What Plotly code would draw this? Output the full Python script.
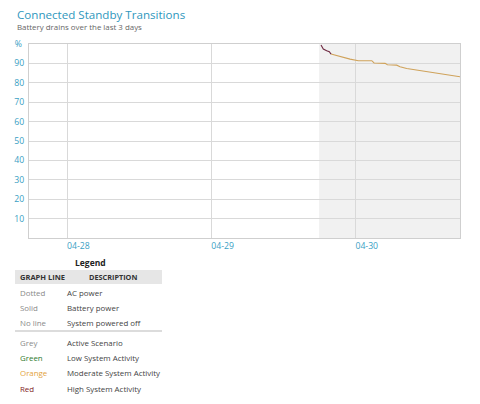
import plotly.graph_objects as go

# ---- data ----
times_high = ["2014-04-29 18:13", "2014-04-29 18:36", "2014-04-29 19:10", "2014-04-29 19:36", "2014-04-29 19:53"]
pct_high = [99.5, 97.4, 96.5, 96.0, 94.8]
times_mod = ["2014-04-29 19:53", "2014-04-29 21:23", "2014-04-29 23:03", "2014-04-30 00:26",
             "2014-04-30 02:40", "2014-04-30 03:03", "2014-04-30 04:53", "2014-04-30 05:16",
             "2014-04-30 06:49", "2014-04-30 07:22", "2014-04-30 08:29", "2014-04-30 17:21"]
pct_mod = [94.8, 93.4, 92.2, 91.4, 91.4, 90.2, 90.0, 89.3, 89.1, 88.3, 87.4, 83.1]
active_start = "2014-04-29 17:54"
x_range = ["2014-04-27 17:37", "2014-04-30 17:21"]
day_ticks = ["2014-04-28", "2014-04-29", "2014-04-30"]
day_labels = ["04-28", "04-29", "04-30"]
y_ticks = [10, 20, 30, 40, 50, 60, 70, 80, 90, 100]
y_labels = ["10", "20", "30", "40", "50", "60", "70", "80", "90", "%\u00a0"]

legend_header = ["GRAPH LINE", "DESCRIPTION"]
legend_rows_a = [("Dotted", "AC power"), ("Solid", "Battery power"), ("No line", "System powered off")]
legend_rows_b = [("Grey", "Active Scenario"), ("Green", "Low System Activity"),
                 ("Orange", "Moderate System Activity"), ("Red", "High System Activity")]
legend_colors_b = ["#8a8a8a", "#2e7a2e", "#e3a33c", "#7f1d1d"]

FONT = "Segoe UI, Open Sans, sans-serif"
TEAL = "#3aa0c4"

OFF = 8  # page body margin
W, H = 480 - OFF, 404 - OFF
L, R, T, B = 29, 460, 44, 238  # plot area in window pixels

def px(x):
    return (x - L) / (R - L)

def py(y):
    return (B - y) / (B - T)

fig = go.Figure()
fig.add_trace(go.Scatter(x=times_mod, y=pct_mod, mode="lines",
                         line=dict(color="#cfa25a", width=1.1), hoverinfo="skip"))
fig.add_trace(go.Scatter(x=times_high, y=pct_high, mode="lines",
                         line=dict(color="#6e2840", width=1.1), hoverinfo="skip"))

fig.add_shape(type="rect", xref="x", yref="paper", x0=active_start, x1=x_range[1], y0=0, y1=1,
              fillcolor="#f1f1f1", line_width=0, layer="below")

ann = []
ann.append(dict(text="Connected Standby Transitions", x=px(15), y=py(14.8), xanchor="left", yanchor="middle",
                font=dict(family=FONT, size=11.6, color="#2f97bd")))
ann.append(dict(text="Battery drains over the last 3 days", x=px(15), y=py(27), xanchor="left", yanchor="middle",
                font=dict(family=FONT, size=7.9, color="#666666")))
ann.append(dict(text="<b>Legend</b>", x=px(90), y=py(262), xanchor="center", yanchor="middle",
                font=dict(family=FONT, size=8.5, color="#222222")))
ann.append(dict(text="<b>" + legend_header[0] + "</b>", x=px(18), y=py(277), xanchor="left", yanchor="middle",
                font=dict(family=FONT, size=7.5, color="#333333")))
ann.append(dict(text="<b>" + legend_header[1] + "</b>", x=px(112.5), y=py(277), xanchor="center", yanchor="middle",
                font=dict(family=FONT, size=7.3, color="#333333")))
rows_y_a = [292.5, 307.5, 322.5]
for (a, b), yy in zip(legend_rows_a, rows_y_a):
    ann.append(dict(text=a, x=px(18), y=py(yy), xanchor="left", yanchor="middle",
                    font=dict(family=FONT, size=7.9, color="#8a8a8a")))
    ann.append(dict(text=b, x=px(65), y=py(yy), xanchor="left", yanchor="middle",
                    font=dict(family=FONT, size=7.9, color="#444444")))
rows_y_b = [342.5, 357.5, 373, 388.5]
for (a, b), c, yy in zip(legend_rows_b, legend_colors_b, rows_y_b):
    ann.append(dict(text=a, x=px(18), y=py(yy), xanchor="left", yanchor="middle",
                    font=dict(family=FONT, size=7.9, color=c)))
    ann.append(dict(text=b, x=px(65), y=py(yy), xanchor="left", yanchor="middle",
                    font=dict(family=FONT, size=7.9, color="#444444")))
for a in ann:
    a.update(xref="paper", yref="paper", showarrow=False)

fig.add_shape(type="rect", xref="paper", yref="paper", x0=px(15), x1=px(162), y0=py(284), y1=py(270),
              fillcolor="#e6e6e6", line_width=0)
fig.add_shape(type="rect", xref="paper", yref="paper", x0=px(15), x1=px(162), y0=py(332), y1=py(330),
              fillcolor="#dcdcdc", line_width=0)

fig.update_layout(
    width=W, height=H,
    margin=dict(l=L - OFF, r=480 - R, t=T - OFF, b=404 - B, autoexpand=False),
    paper_bgcolor="white", plot_bgcolor="rgba(0,0,0,0)",
    showlegend=False,
    annotations=ann,
    font=dict(family=FONT),
)
fig.update_xaxes(type="date", range=x_range, tickvals=day_ticks, ticktext=day_labels,
                 showgrid=True, gridcolor="#d9d9d9", gridwidth=1,
                 showline=True, linecolor="#cfcfcf", mirror=True, linewidth=1,
                 ticks="", ticklen=0, ticklabelshift=11, ticklabelstandoff=0,
                 tickfont=dict(family=FONT, size=8.7, color=TEAL), zeroline=False, fixedrange=True,
                 automargin=False)
fig.update_yaxes(range=[0, 100], tickvals=y_ticks, ticktext=y_labels,
                 showgrid=True, gridcolor="#d9d9d9", gridwidth=1,
                 showline=True, linecolor="#cfcfcf", mirror=True, linewidth=1,
                 ticks="", ticklen=0, ticklabelstandoff=2,
                 tickfont=dict(family=FONT, size=8.7, color=TEAL), zeroline=False, fixedrange=True,
                 automargin=False)

fig.write_html("out.html")
